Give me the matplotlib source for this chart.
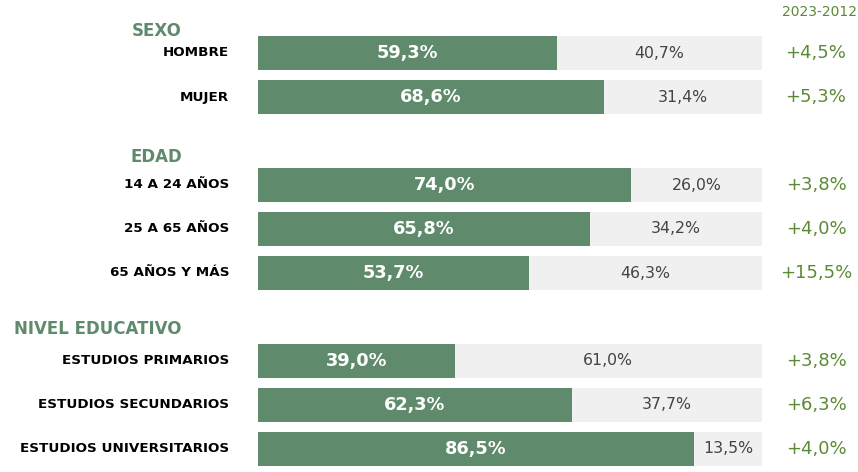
import matplotlib.pyplot as plt

# data
categories = ["HOMBRE", "MUJER",
              "14 A 24 AÑOS", "25 A 65 AÑOS", "65 AÑOS Y MÁS",
              "ESTUDIOS PRIMARIOS", "ESTUDIOS SECUNDARIOS", "ESTUDIOS UNIVERSITARIOS"]
yes_values = [59.3, 68.6, 74.0, 65.8, 53.7, 39.0, 62.3, 86.5]
no_values = [40.7, 31.4, 26.0, 34.2, 46.3, 61.0, 37.7, 13.5]
changes = ["+4,5%", "+5,3%", "+3,8%", "+4,0%", "+15,5%", "+3,8%", "+6,3%", "+4,0%"]
groups = ["SEXO", "EDAD", "NIVEL EDUCATIVO"]
change_title = "2023-2012"

# layout: row slots (with an empty slot between groups)
rows = [0, 1, 3, 4, 5, 7, 8, 9]
group_rows = [-0.5, 2.36, 6.27]

GREEN = "#5f8a6c"
GREY = "#f0f0f0"
CHANGE_GREEN = "#5b8a34"

W, H = 858, 472
fig = plt.figure(figsize=(W / 100, H / 100), dpi=100)
ax = fig.add_axes([258 / W, 0, 504 / W, 1])
ax.set_xlim(0, 100)
ax.set_ylim((H - 53) / 44, -53 / 44)
ax.axis("off")

px = 100 / 504  # one pixel in x data units


def fmt(v):
    return f"{v:.1f}%".replace(".", ",")


ax.barh(rows, yes_values, height=34 / 44, color=GREEN, linewidth=0)
ax.barh(rows, no_values, left=yes_values, height=34 / 44, color=GREY, linewidth=0)

for r, cat, yv, nv, ch in zip(rows, categories, yes_values, no_values, changes):
    ax.text(yv / 2, r, fmt(yv), ha="center", va="center", color="white",
            fontsize=12.8, fontweight="bold")
    ax.text(yv + nv / 2, r, fmt(nv), ha="center", va="center", color="#444444",
            fontsize=11.3)
    ax.text(-29 * px, r, cat, ha="right", va="center", color="black",
            fontsize=9.7, fontweight="bold", clip_on=False)
    ax.text((816 - 258) * px, r, ch, ha="center", va="center", color=CHANGE_GREEN,
            fontsize=13, clip_on=False)

for g, gr in zip(groups, group_rows):
    ax.text((182 - 258) * px, gr, g, ha="right", va="center", color=GREEN,
            fontsize=12, fontweight="bold", clip_on=False)

ax.text((857 - 258) * px, (12 - 53) / 44, change_title, ha="right", va="center",
        color=CHANGE_GREEN, fontsize=10, clip_on=False)

fig.savefig("out.png", dpi=100)
